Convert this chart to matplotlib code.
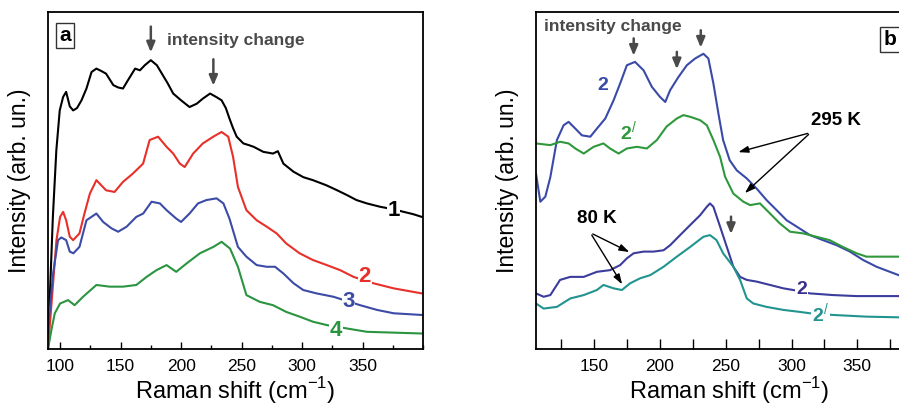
import matplotlib
matplotlib.use("Agg")
import matplotlib.pyplot as plt
from matplotlib.ticker import MultipleLocator

plt.rcParams['font.family'] = ['Liberation Sans', 'DejaVu Sans']
plt.rcParams['mathtext.fontset'] = 'custom'
plt.rcParams['mathtext.rm'] = 'Liberation Sans'

# ---------------- Panel a data (intensity in % of axis height) ----------------
a1_x = [90, 91.4, 94, 96.9, 99.7, 102.5, 105, 108, 110.8, 114, 117.7, 121.8, 126, 130, 134, 138, 144, 148,
        152, 156, 162, 166, 170, 175, 180, 185, 189, 193.5, 200, 207, 213, 218, 224, 229, 233.5, 237, 240,
        243, 246, 251.5, 256, 260, 268, 276, 280, 284.6, 293, 301, 309, 320, 329, 337, 345, 353.6, 364.6,
        375, 384, 392, 399]
a1_y = [0.7, 14.5, 39, 59, 70.8, 74.8, 76.3, 72, 70.8, 71.5, 73.8, 77.3, 82.2, 83.2, 82.5, 81.7, 78.3, 77.6,
        77.3, 79.7, 83.2, 82.7, 84.2, 85.7, 84.2, 81.2, 78.8, 75.8, 73.8, 71.8, 72.8, 74.3, 75.8, 74.8, 73.8,
        71.5, 68.4, 65.5, 63, 61, 60.5, 60, 58.5, 58, 58.7, 55, 52.6, 51, 50.1, 48.6, 47.1, 45.7, 44.2, 43.2,
        42.2, 41.5, 40.7, 40, 39.2]

a2_x = [90, 94.2, 97, 100, 102.5, 105, 108, 110.8, 116, 120, 124.6, 130, 134, 138, 145, 152, 160, 168.6,
        174, 181, 188, 193.5, 199, 203, 210, 218, 226.6, 233.5, 239, 243, 247, 254, 262.5, 270.8, 279, 287,
        298, 309, 320.5, 331.5, 342.6, 359, 375.7, 399]
a2_y = [0, 19.5, 32.3, 39.2, 40.7, 38.2, 33.3, 32.3, 34.3, 40, 46.1, 50.1, 48.6, 47.1, 46.6, 49.6, 52, 55,
        62, 63, 60, 58, 55, 54, 58, 61, 63, 64.4, 63, 57, 48.1, 41.2, 38.2, 36.3, 34.3, 31.3,
        28.4, 26.4, 24.9, 23.4, 21.4, 19.5, 18, 16.5]

a3_x = [90, 94.2, 98.3, 101, 105, 108, 111, 116, 121.8, 130, 135.6, 142.5, 148, 155, 163, 168.7, 175.6, 182.5,
        188, 196, 200, 207, 214, 221, 229.4, 235, 240, 247, 254, 262.5, 270.8, 277.7, 284.6, 293, 301,
        312, 326, 348, 362, 375.7, 399]
a3_y = [5.6, 22.4, 32.3, 33.1, 32.3, 28.9, 28.4, 30.3, 38.2, 40.2, 37.7, 35.8, 34.8, 36.3, 39.2, 40.2, 43.7, 43.2,
        41.2, 38.7, 37.7, 40.2, 43.2, 44.2, 44.7, 43.2, 38.7, 30.3, 27.4, 24.9, 24.4, 24.4, 22.4, 19.5, 17.5,
        16.5, 15.5, 13, 11.6, 10.6, 10.1]

a4_x = [90, 92.8, 95.6, 100, 106.6, 112, 119, 130, 141, 152, 163, 171.5, 179.7, 188, 196, 204.6, 215.6, 226.7,
        233.5, 240.5, 247, 254, 265, 276, 287, 298, 309, 320.5, 337, 353.6, 399]
a4_y = [0, 5.6, 10.6, 13.5, 14.5, 13, 15.5, 19, 18.5, 18.5, 19, 21.4, 23.4, 24.9, 22.9, 25.4, 28.4, 30.3,
        31.8, 29.8, 24.4, 16, 14, 13, 11, 9.6, 8.1, 7.1, 6.1, 5.1, 4.6]

# ---------------- Panel b data ----------------
b2h_x = [105.7, 109, 112.8, 116.6, 121.6, 126.7, 130.5, 135.6, 140.6, 147, 152, 158.4, 164.7, 169.7, 174.8,
         181, 187.5, 193.8, 200, 204, 207.7, 214, 220.4, 226.7, 233, 236.8, 240.6, 244.4, 248, 253, 258.4,
         266, 273.5, 281, 288.7, 296.3, 304, 314, 324, 334.3, 344.4, 354.5, 364.7, 374.8, 381.6, 395]
b2h_y = [52, 43.7, 45.2, 51, 62, 66.4, 67.4, 65.4, 63.4, 63, 65.4, 68.4, 73.8, 78.8, 84.2,
         85.2, 82.7, 77.8, 74.8, 73.3, 76.8, 80.7, 84.2, 86.2, 87.6, 86.2, 78.8, 69.9, 62, 56, 53,
         50.6, 47.6, 44.2, 41.2, 38.2, 36.3, 33.8, 32.3, 30.8, 28.9, 26.4, 24.4, 22.9, 21.9, 20.5]

b2ph_x = [105.7, 116.6, 124, 130.5, 135.6, 142, 149.5, 157, 162, 168.5, 174.8, 182.4, 190, 197.6, 205, 212.8,
          217.8, 223, 230.5, 235.6, 240.6, 245.7, 249.5, 255.8, 263.4, 268.5, 276, 283.7, 291, 298.9, 309,
          319, 329, 339, 349.5, 357, 364.7, 381.6, 395]
b2ph_y = [61, 60.5, 61.5, 61, 59.5, 58, 60, 61, 59.5, 58, 59.5, 60, 59.5, 62, 66, 68.4,
          69.4, 68.9, 67.9, 66.4, 62, 57, 51.1, 46.1, 43.7, 42.7, 43.2, 40.2, 37.3, 34.8, 34.3,
          33.3, 32.3, 30.3, 28.4, 27.4, 27.4, 27.4, 27.4]

b2l_x = [105.7, 111.5, 116.6, 124, 131.8, 142, 152, 162, 169.7, 174.8, 179.9, 187.5, 195, 202.7, 207.7, 215.3,
         223, 230.5, 235.6, 238, 240.6, 245.7, 250.8, 255.8, 260.9, 266, 273.5, 283.7, 293.8, 301.4, 314,
         331.8, 349.5, 381.6, 395]
b2l_y = [16.5, 15.5, 16, 20.5, 21.4, 21.4, 22.9, 23.4, 24.9, 26.9, 28.4, 28.9, 28.9, 29.3, 30.8, 33.8,
         36.8, 39.7, 42.2, 43.2, 42.2, 36.3, 30.3, 24.4, 21.4, 20.5, 20, 19, 18, 17.5, 16.5,
         16, 15.7, 15.7, 15.7]

b2pl_x = [105.7, 111.5, 121.6, 131.8, 142, 152, 157, 164.7, 171, 177.3, 185, 192.5, 202.7, 212.8, 223, 233,
          238, 243, 248, 255.8, 260.9, 266, 271, 281, 293.8, 306.5, 314, 331.8, 357, 381.6, 395]
b2pl_y = [13.5, 12, 12.5, 15, 16, 17.5, 19, 18, 17.5, 19.5, 21, 21.9, 24.4, 27.4, 30.3, 33.3,
          33.8, 32.3, 28.4, 24.4, 20.5, 15, 13.5, 12.5, 11.6, 11, 10.6, 10.1, 9.6, 9.4, 9.3]

xticks = [100, 150, 200, 250, 300, 350]

W, H = 899, 408
fig = plt.figure(figsize=(W / 100, H / 100), dpi=100)

axa = fig.add_axes([48 / W, (H - 349) / H, (423 - 48) / W, 337 / H])
axb = fig.add_axes([536 / W, (H - 349) / H, (923 - 536) / W, 337 / H])

gray = '#4a4a4a'
lw = 1.5

# Panel a
axa.plot(a1_x, a1_y, color='black', lw=lw)
axa.plot(a2_x, a2_y, color='#e8302a', lw=lw)
axa.plot(a3_x, a3_y, color='#3b4ba6', lw=lw)
axa.plot(a4_x, a4_y, color='#2b9441', lw=lw)

lab_kw = dict(fontsize=16, fontweight='bold', ha='center', va='center',
              bbox=dict(facecolor='white', edgecolor='none', pad=0.5))
axa.text(375.7, 41.2, '1', color='black', **lab_kw)
axa.text(352, 21.6, '2', color='#e8302a', **lab_kw)
axa.text(338.4, 14, '3', color='#3b4ba6', **lab_kw)
axa.text(328, 5.6, '4', color='#2b9441', **lab_kw)

arr = dict(arrowstyle='-|>,head_width=0.25,head_length=0.6', color=gray, lw=1.8)
axa.annotate('', xy=(175, 87.2), xytext=(175, 96.5), arrowprops=arr)
axa.annotate('', xy=(226.7, 77.3), xytext=(226.7, 86.8), arrowprops=arr)
axa.text(188, 91.6, 'intensity change', color=gray, fontsize=12.5, fontweight='bold',
         ha='left', va='center')
axa.text(0.045, 0.93, 'a', transform=axa.transAxes, fontsize=15, fontweight='bold',
         ha='center', va='center',
         bbox=dict(facecolor='white', edgecolor='#333333', boxstyle='square,pad=0.15', lw=1))

axa.set_xlim(90, 400)
axa.set_ylim(0, 100)
axa.set_xticks(xticks)
axa.xaxis.set_minor_locator(MultipleLocator(25))
axa.set_yticks([])
axa.tick_params(axis='x', which='major', direction='in', length=5, width=1, labelsize=12.5, pad=7)
axa.tick_params(axis='x', which='minor', direction='in', length=3, width=1)
axa.set_xlabel(r'Raman shift (cm$^{-1}$)', fontsize=17, labelpad=1)
axa.set_ylabel('Intensity (arb. un.)', fontsize=16.5, labelpad=12)
for s in axa.spines.values():
    s.set_linewidth(1.3)

# Panel b
c_b_blue = '#3a4aa8'
c_b_green = '#2f983c'
c_b_blue2 = '#3b3c9c'
c_b_teal = '#22948f'
axb.plot(b2h_x, b2h_y, color=c_b_blue, lw=lw)
axb.plot(b2ph_x, b2ph_y, color=c_b_green, lw=lw)
axb.plot(b2l_x, b2l_y, color=c_b_blue2, lw=lw)
axb.plot(b2pl_x, b2pl_y, color=c_b_teal, lw=lw)

labb = dict(fontsize=14, fontweight='bold', ha='center', va='center')
axb.text(156.6, 78.3, '2', color=c_b_blue, **labb)
axb.text(176, 64.4, "2$^{/}$", color=c_b_green, **labb)
axb.text(307.7, 17.7, '2', color='#3a2f8c',
         bbox=dict(facecolor='white', edgecolor='none', pad=0.5), **labb)
axb.text(322, 10.4, "2$^{/}$", color=c_b_teal,
         bbox=dict(facecolor='white', edgecolor='none', pad=0.5), **labb)

axb.text(333.5, 67.7, '295 K', color='black', fontsize=13.5, fontweight='bold', ha='center', va='center')
axb.text(152, 38.7, '80 K', color='black', fontsize=13.5, fontweight='bold', ha='center', va='center')

karr = dict(arrowstyle='-|>,head_width=0.2,head_length=0.6', color='black', lw=1.0)
axb.annotate('', xy=(257.5, 58.2), xytext=(314.5, 64.2), arrowprops=karr)
axb.annotate('', xy=(263, 45.7), xytext=(314.5, 64.2), arrowprops=karr)
axb.annotate('', xy=(178.6, 28.4), xytext=(147, 34.5), arrowprops=karr)
axb.annotate('', xy=(172.3, 18.5), xytext=(147, 34.5), arrowprops=karr)

axb.annotate('', xy=(180, 86.2), xytext=(180, 93), arrowprops=arr)
axb.annotate('', xy=(212.8, 82.2), xytext=(212.8, 89), arrowprops=arr)
axb.annotate('', xy=(231, 88.6), xytext=(231, 95.4), arrowprops=arr)
axb.annotate('', xy=(254, 33.3), xytext=(254, 40.1), arrowprops=arr)
axb.text(111.5, 95.6, 'intensity change', color=gray, fontsize=12.5, fontweight='bold',
         ha='left', va='center')
axb.text(370, 91.8, 'b', color='black', fontsize=15, fontweight='bold', ha='left', va='center',
         bbox=dict(facecolor='white', edgecolor='#333333', boxstyle='square,pad=0.15', lw=1))

axb.set_xlim(105.7, 400)
axb.set_ylim(0, 100)
axb.set_xticks(xticks[1:])
axb.xaxis.set_minor_locator(MultipleLocator(25))
axb.set_yticks([])
axb.tick_params(axis='x', which='major', direction='in', length=7, width=1, labelsize=12.5, pad=7)
axb.tick_params(axis='x', which='minor', direction='in', length=7, width=1)
axb.set_xlabel(r'Raman shift (cm$^{-1}$)', fontsize=17, labelpad=1)
axb.set_ylabel('Intensity (arb. un.)', fontsize=16.5, labelpad=12)
for s in axb.spines.values():
    s.set_linewidth(1.3)

fig.savefig('out.png', dpi=100)
